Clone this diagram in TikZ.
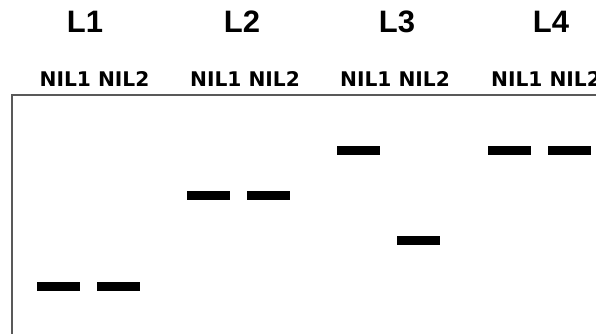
\documentclass[tikz,border=0pt]{standalone}
\usepackage{fontspec}
\setmainfont{Liberation Sans}
\newfontfamily\nilfont{DejaVu Sans}
\begin{document}
\begin{tikzpicture}[x=1pt,y=-1pt,
  band/.style={fill=black,draw=none,minimum width=43pt,minimum height=9pt,inner sep=0pt,outer sep=0pt},
  lanelab/.style={inner sep=0pt,font=\fontsize{31}{32}\selectfont\bfseries},
  nillab/.style={inner sep=0pt,font=\nilfont\fontsize{20.2}{22}\selectfont\bfseries}]
\useasboundingbox (0,0) rectangle (596,334);
\fill[white] (0,0) rectangle (596,334);
% frame
\draw[line width=1.3pt,black!65] (12,334) -- (12,95) -- (596,95);
% lane labels
\node[lanelab,anchor=base] (l1) at (85,33) {L1};
\node[lanelab,anchor=base] (l2) at (242,33) {L2};
\node[lanelab,anchor=base] (l3) at (397,33) {L3};
\node[lanelab,anchor=base] (l4) at (551,33) {L4};
% sub labels
\node[nillab,anchor=base] (n1) at (94.5,87) {NIL1 NIL2};
\node[nillab,anchor=base] (n2) at (245,87) {NIL1 NIL2};
\node[nillab,anchor=base] (n3) at (395,87) {NIL1 NIL2};
\node[nillab,anchor=base] (n4) at (546,87) {NIL1 NIL2};
% bands
\node[band] (b11) at (58.5,286) {};
\node[band] (b12) at (118,286) {};
\node[band] (b21) at (208.5,195) {};
\node[band] (b22) at (268.5,195) {};
\node[band] (b31) at (358.5,150.5) {};
\node[band] (b32) at (418.5,240.5) {};
\node[band] (b41) at (509,150.5) {};
\node[band] (b42) at (569.5,150.5) {};
\end{tikzpicture}
\end{document}
